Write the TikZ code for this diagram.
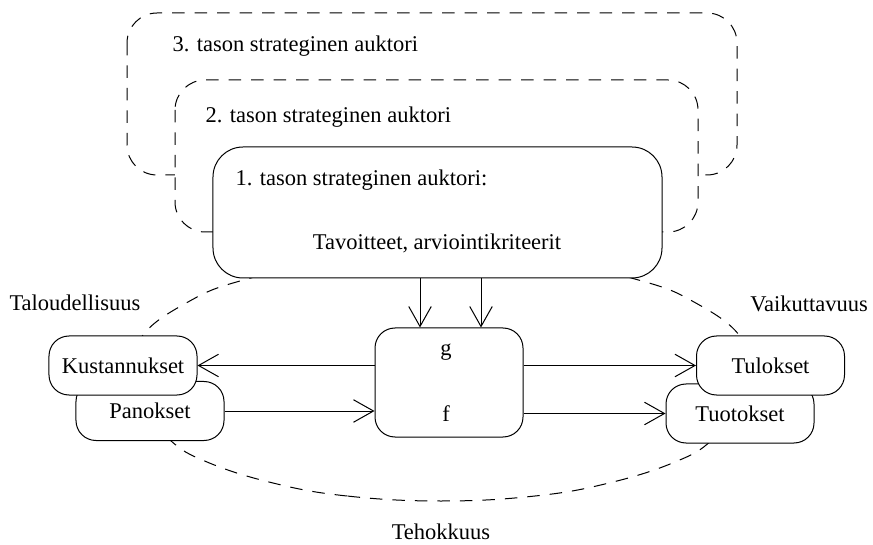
\documentclass[tikz,border=0pt]{standalone}
\usepackage{fontspec}
\IfFontExistsTF{LiberationSerif-Regular.ttf}
  {\setmainfont{LiberationSerif}[Extension=.ttf, UprightFont=*-Regular, BoldFont=*-Bold, ItalicFont=*-Italic, BoldItalicFont=*-BoldItalic]}
  {\setmainfont{Liberation Serif}}
\usetikzlibrary{arrows.meta}

\begin{document}
\begin{tikzpicture}[x=0.4pt, y=-0.4pt, thin, >={Straight Barb[length=8pt,width=9pt]},
  font=\fontsize{9}{11}\selectfont,
  dsh/.style = {dash pattern=on 5pt off 4pt},
  lvl/.style = {draw, dsh, rounded corners=12pt, fill=white},
  lbl/.style = {anchor=west, inner sep=0pt},
  box/.style = {draw, rounded corners=8pt, fill=white, minimum width=59.2pt, minimum height=23.6pt}]
\useasboundingbox (0,0) rectangle (873,545);
% efficiency curve
\draw[dsh] plot[smooth cycle, tension=0.7] coordinates {(441,501) (347,496) (273,483) (207,462) (170,440) (143,405) (136,370) (143,335) (188,302) (240,281) (330,262) (441,255) (552,262) (642,281) (694,302) (739,335) (746,370) (739,405) (712,440) (675,462) (609,483) (535,496)};
% actor levels
\draw[lvl] (127,13) rectangle (737,175);
\node[lbl] (l3) at (172,46) {3. tason strateginen auktori};
\draw[lvl] (175,80) rectangle (698,232);
\node[lbl] (l2) at (205,117) {2. tason strateginen auktori};
\node[draw, fill=white, rounded corners=12pt, minimum width=179.6pt, minimum height=52.4pt] (1) at (437.5,212.5) {};
\node[lbl] (l1) at (235,180) {1. tason strateginen auktori:};
\node (tav) at (437,243) {Tavoitteet, arviointikriteerit};
% process
\node[box, minimum height=43.6pt] (gf) at (449,382.5) {};
\node (g) at (446,352) {g};
\node (f) at (446,414) {f};
\node[box] (pan) at (150,411) {Panokset};
\node[box] (kust) at (123,365.5) {Kustannukset};
\node[box] (tuo) at (740,413.5) {Tuotokset};
\node[box] (tul) at (770.5,365.5) {Tulokset};
\node (tal) at (75,303) {Taloudellisuus};
\node (vai) at (809,304) {Vaikuttavuus};
\node (teh) at (441,532) {Tehokkuus};
\coordinate (a) at (420,0);
\coordinate (b) at (481,0);
\draw[->] (1.south -| a) -- (gf.north -| a);
\draw[->] (1.south -| b) -- (gf.north -| b);
\draw[->] (kust.east -| gf.west) -- (kust.east);
\draw[->] (pan.east) -- (pan.east -| gf.west);
\draw[->] (tul.west -| gf.east) -- (tul.west);
\draw[->] (tuo.west -| gf.east) -- (tuo.west);
\end{tikzpicture}
\end{document}
